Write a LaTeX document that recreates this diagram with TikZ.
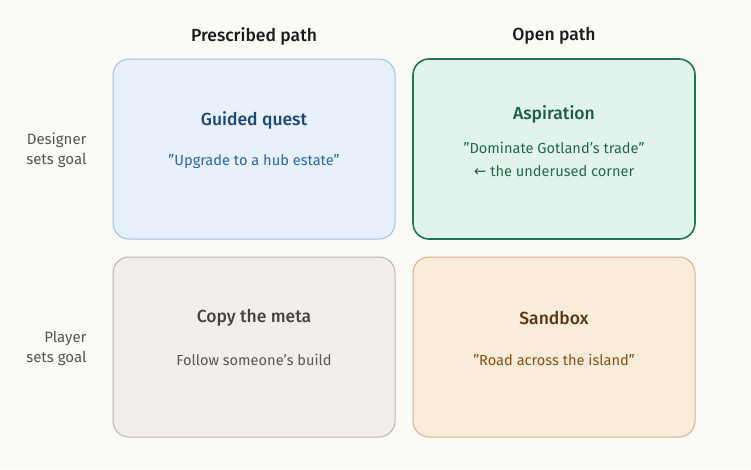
\documentclass[tikz,border=0pt]{standalone}
\usepackage{fontspec}
\setmainfont{Fira Sans}[BoldFont={Fira Sans Medium}]
\newfontfamily\symfont{DejaVu Sans}
\definecolor{bg}{HTML}{FAFAF7}
\definecolor{bluefill}{HTML}{E7F0FB}
\definecolor{blueline}{HTML}{9EC0E6}
\definecolor{bluetitle}{HTML}{1C4578}
\definecolor{bluetext}{HTML}{2B66AD}
\definecolor{greenfill}{HTML}{E2F3EC}
\definecolor{greenline}{HTML}{1F7558}
\definecolor{greentitle}{HTML}{1D5C45}
\definecolor{greentext}{HTML}{1F6B4E}
\definecolor{grayfill}{HTML}{F2EFEA}
\definecolor{grayline}{HTML}{BBB6AE}
\definecolor{graytitle}{HTML}{454440}
\definecolor{graytext}{HTML}{5A5853}
\definecolor{orangefill}{HTML}{FAECDB}
\definecolor{orangeline}{HTML}{D6B08A}
\definecolor{orangetitle}{HTML}{5E3510}
\definecolor{orangetext}{HTML}{8A4E10}
\definecolor{headtext}{HTML}{1A1A1A}
\definecolor{sidetext}{HTML}{555550}
\tikzset{
  quad/.style={rounded corners=16pt, minimum width=282pt, minimum height=180pt, line width=1pt},
  qtitle/.style={font=\fontsize{17.5}{20}\selectfont\bfseries},
  qtext/.style={font=\fontsize{14.6}{23}\selectfont, align=center},
  head/.style={font=\fontsize{17.5}{20}\selectfont\bfseries, text=headtext},
  side/.style={font=\fontsize{15}{20}\selectfont, text=sidetext, align=right, anchor=east},
}
\begin{document}
\begin{tikzpicture}[x=1pt,y=-1pt]
\useasboundingbox[fill=bg] (0,0) rectangle (751,469);
% quadrants
\node[quad, draw=blueline, fill=bluefill] (gq) at (254,149) {};
\node[quad, draw=greenline, fill=greenfill, line width=1.6pt] (asp) at (554,149) {};
\node[quad, draw=grayline, fill=grayfill] (meta) at (254,347) {};
\node[quad, draw=orangeline, fill=orangefill] (sb) at (554,347) {};
% headers
\node[head] (h1) at (254,36) {Prescribed path};
\node[head] (h2) at (554,36) {Open path};
% side labels
\node[side] (s1) at (90,150) {Designer\\sets goal};
\node[side] (s2) at (90,348) {Player\\sets goal};
% texts
\node[qtitle, text=bluetitle] (gqt) at (254,120) {Guided quest};
\node[qtext, text=bluetext] (gqs) at (254,162) {"Upgrade to a hub estate"};
\node[qtitle, text=greentitle] (aspt) at (554,114) {Aspiration};
\node[qtext, text=greentext] (asps) at (554,159) {"Dominate Gotland's trade"\\{\symfont\fontsize{15}{14}\selectfont ←} the underused corner};
\node[qtitle, text=graytitle] (metat) at (254,318) {Copy the meta};
\node[qtext, text=graytext] (metas) at (254,360) {Follow someone's build};
\node[qtitle, text=orangetitle] (sbt) at (554,318) {Sandbox};
\node[qtext, text=orangetext] (sbs) at (554,360) {"Road across the island"};
\end{tikzpicture}
\end{document}
